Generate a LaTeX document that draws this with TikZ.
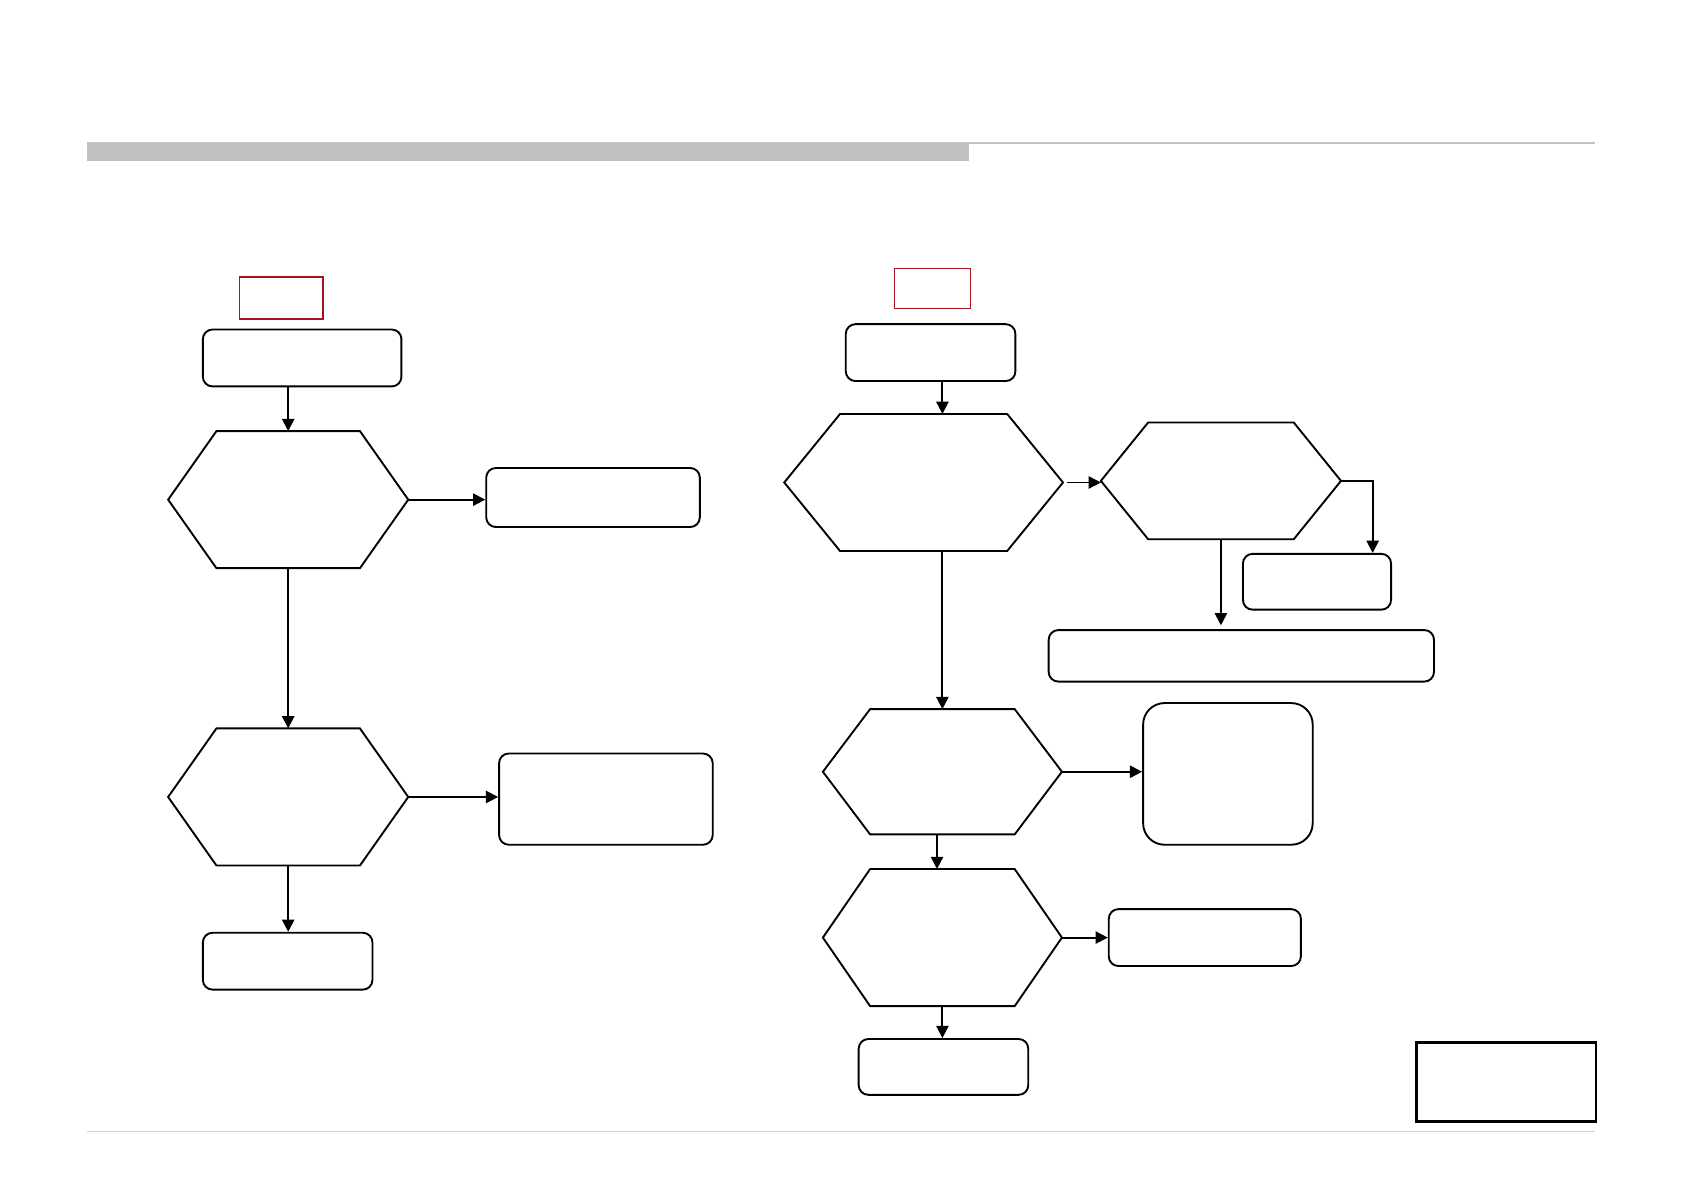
\documentclass[tikz,border=0pt]{standalone}
\usepackage{tikz}
\usetikzlibrary{arrows.meta,positioning,calc,fit}
\definecolor{markRed}{HTML}{A8141E}
\definecolor{barGrey}{HTML}{C0C0C0}
\definecolor{ruleGrey}{HTML}{D4D4D4}
\newcommand{\hexdraw}[2]{%
  \draw[hexline] (#1.west) -- ($(#1.north west)+(#2,0)$) -- ($(#1.north east)+(-#2,0)$)
    -- (#1.east) -- ($(#1.south east)+(-#2,0)$) -- ($(#1.south west)+(#2,0)$) -- cycle;}

\begin{document}
\begin{tikzpicture}[x=0.02cm,y=-0.02cm,>={Triangle[length=6.5pt,width=6.5pt]},
  box/.style={draw,rounded corners=9*0.02cm,line width=1pt,inner sep=0pt},
  frame/.style={inner sep=0pt},
  hexline/.style={line width=1pt,line join=miter},
  tag/.style={draw=markRed,inner sep=0pt},
  flow/.style={->,line width=1pt}]
\useasboundingbox (0,0) rectangle (1568,1110);
% header and footer rules
\fill[barGrey] (81,132) rectangle (903,150);
\draw[barGrey,line width=1pt] (903,133) -- (1486,133);
\draw[ruleGrey,line width=0.6pt] (81,1054) -- (1486,1054);
% left flow
\node[tag,line width=0.9pt,fit={(223,258) (301,297)}] (tagL) {};
\node[box,fit={(189,307) (374,360)}] (start) {};
\node[frame,fit={(157,402) (380,529)}] (checkA) {};
\hexdraw{checkA}{45}
\node[box,fit={(453,436) (652,491)}] (outA) {};
\node[frame,fit={(157,679) (380,806)}] (checkB) {};
\hexdraw{checkB}{45}
\node[box,fit={(465,702) (664,787)}] (outB) {};
\node[box,fit={(189,869) (347,922)}] (endL) {};
\draw[flow] (start.south -| checkA.north) -- (checkA.north);
\draw[flow] (checkA.east) -- (checkA.east -| outA.west);
\draw[flow] (checkA.south) -- (checkB.north);
\draw[flow] (checkB.east) -- (checkB.east -| outB.west);
\draw[flow] (checkB.south) -- (checkB.south |- endL.north);
% right flow
\node[tag,line width=0.5pt,fit={(833,250) (904,287)}] (tagR) {};
\node[box,fit={(788,302) (946,355)}] (startR) {};
\node[frame,fit={(731,386) (990,513)}] (testA) {};
\hexdraw{testA}{52}
\node[frame,fit={(1026,394) (1249,502)}] (testB) {};
\hexdraw{testB}{44}
\node[box,fit={(1158,516) (1296,568)}] (resB) {};
\node[box,fit={(977,587) (1336,635)}] (resWide) {};
\node[frame,fit={(767,661) (989,777)}] (testC) {};
\hexdraw{testC}{44}
\node[box,rounded corners=20*0.02cm,fit={(1065,655) (1223,787)}] (resC) {};
\node[frame,fit={(767,810) (989,937)}] (testD) {};
\hexdraw{testD}{44}
\node[box,fit={(1033,847) (1212,900)}] (resD) {};
\node[box,fit={(800,968) (958,1020)}] (endR) {};
\node[draw,line width=1.5pt,inner sep=0pt,fit={(1320,971) (1487,1045)}] (stamp) {};
\draw[flow] (startR.south -| testC.north) -- (testA.north -| testC.north);
\draw[flow,shorten <=2pt] (testA.east) -- (testA.east -| testB.west);
\draw[flow] (testB.east) -| ($(resB.north east)+(-18,0)$);
\draw[flow] (testB.south) -- ([yshift=2pt]testB.south |- resWide.north);
\draw[flow] (testA.south -| testC.north) -- (testC.north);
\draw[flow] (testC.east) -- (testC.east -| resC.west);
\draw[flow] ([xshift=-0.1cm]testC.south) -- ([xshift=-0.1cm]testC.south |- testD.north);
\draw[flow] (testD.east) -- (testD.east -| resD.west);
\draw[flow] (testD.south) -- (testD.south |- endR.north);
\end{tikzpicture}
\end{document}
